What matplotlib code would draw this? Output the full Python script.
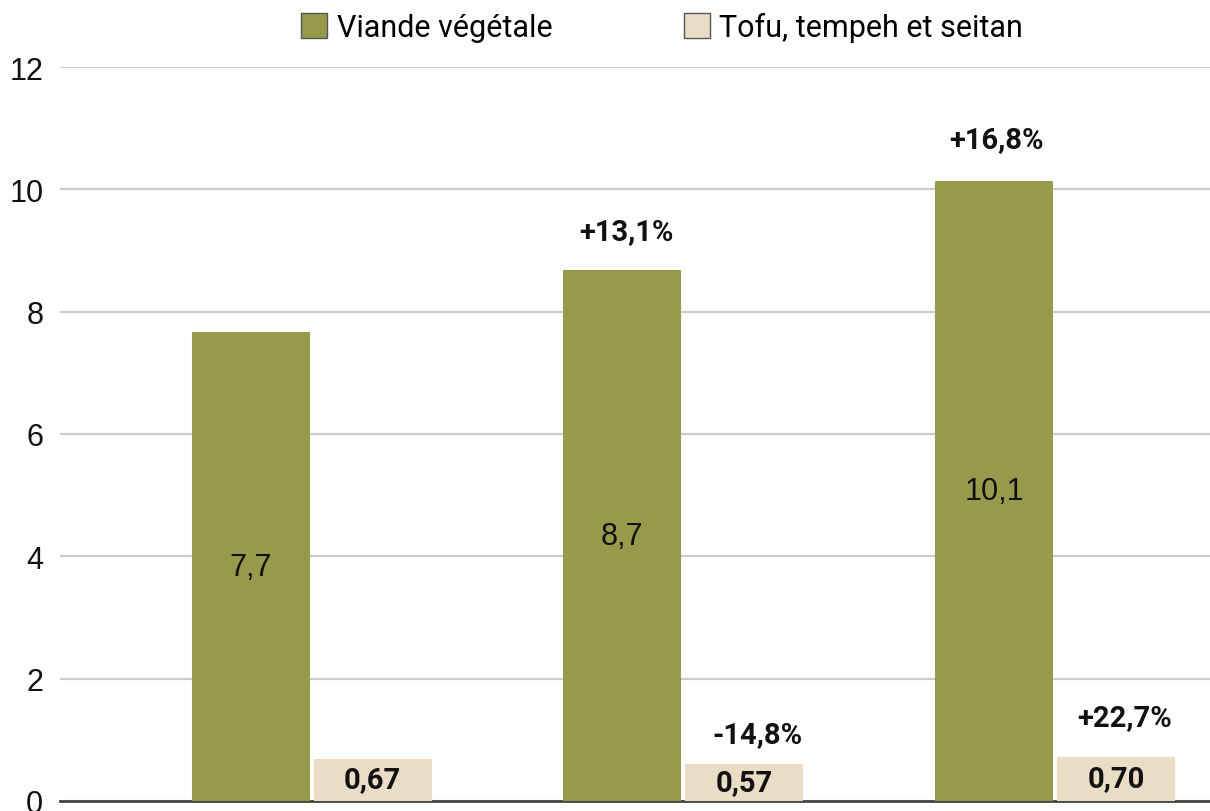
import matplotlib
matplotlib.use("Agg")
import matplotlib.pyplot as plt
from matplotlib.patches import Patch
import numpy as np

# Data
groups = [0, 1, 2]
viande = [7.65, 8.66, 10.12]
tofu = [0.67, 0.59, 0.70]
viande_labels = ["7,7", "8,7", "10,1"]
tofu_labels = ["0,67", "0,57", "0,70"]
viande_change = ["", "+13,1%", "+16,8%"]
tofu_change = ["", "-14,8%", "+22,7%"]
series_names = ["Viande végétale", "Tofu, tempeh et seitan"]
yticks = [0, 2, 4, 6, 8, 10, 12]

green = "#979A4B"
beige = "#EBDCC6"

plt.rcParams['font.family'] = ['Roboto', 'DejaVu Sans']
plain_font = ['Liberation Sans', 'DejaVu Sans']
legend_font = ['Liberation Sans Narrow', 'Roboto', 'DejaVu Sans']

W, H = 1210, 812
fig = plt.figure(figsize=(W/100, H/100), dpi=100)
ax = fig.add_axes([60/W, (H-802)/H, 1150/W, (802-68)/H])

x = np.array(groups, dtype=float)
bw = 0.312
off = 0.164
ax.bar(x - off, viande, width=bw, color=green, edgecolor=green, linewidth=1.5,
       joinstyle='round', zorder=3)
ax.bar(x + off, tofu, width=bw, color=beige, edgecolor=beige, linewidth=1.5,
       joinstyle='round', zorder=3)

ax.set_xlim(-0.677, 2.417)
ax.set_ylim(0, 12)
ax.set_yticks(yticks)
ax.set_yticklabels([str(t) for t in yticks], fontsize=22, color="#111111", family=plain_font)
ax.tick_params(axis='y', length=0, pad=12)
ax.set_xticks([])
for s in ['top', 'right', 'left']:
    ax.spines[s].set_visible(False)
ax.spines['bottom'].set_color("#444444")
ax.spines['bottom'].set_linewidth(2)
ax.spines['bottom'].set_zorder(2)
ax.grid(axis='y', color="#cccccc", linewidth=1.6, zorder=0)
ax.set_axisbelow(True)

for xi, v, lab in zip(x, viande, viande_labels):
    ax.text(xi - off, v / 2, lab, ha='center', va='center', fontsize=22, color="#111111",
            family=plain_font, zorder=4)
for xi, v, lab in zip(x, tofu, tofu_labels):
    ax.text(xi + off, v / 2 + 0.02, lab, ha='center', va='center', fontsize=21,
            fontweight='bold', color="#111111", zorder=4)

green_offsets = [(0, 40), (4, 40), (2, 43)]
beige_offsets = [(0, 40), (13, 31), (9, 41)]
for xi, v, lab, (dx, dy) in zip(x, viande, viande_change, green_offsets):
    if lab:
        ax.annotate(lab, (xi - off, v), xytext=(dx * 0.72, dy * 0.72), textcoords='offset points',
                    ha='center', va='center', fontsize=21, fontweight='bold', color="#111111")
for xi, v, lab, (dx, dy) in zip(x, tofu, tofu_change, beige_offsets):
    if lab:
        ax.annotate(lab, (xi + off, v), xytext=(dx * 0.72, dy * 0.72), textcoords='offset points',
                    ha='center', va='center', fontsize=21, fontweight='bold', color="#111111")

handles = [Patch(facecolor=green, edgecolor="#555555", linewidth=1),
           Patch(facecolor=beige, edgecolor="#555555", linewidth=1)]
fig.legend(handles, series_names, loc='center', bbox_to_anchor=(662/W, 1 - 28/H),
           ncol=2, frameon=False, prop={'family': legend_font, 'size': 22},
           handlelength=0.85, handleheight=0.85,
           handletextpad=0.3, columnspacing=4.3)

fig.savefig("out.png", dpi=100)
